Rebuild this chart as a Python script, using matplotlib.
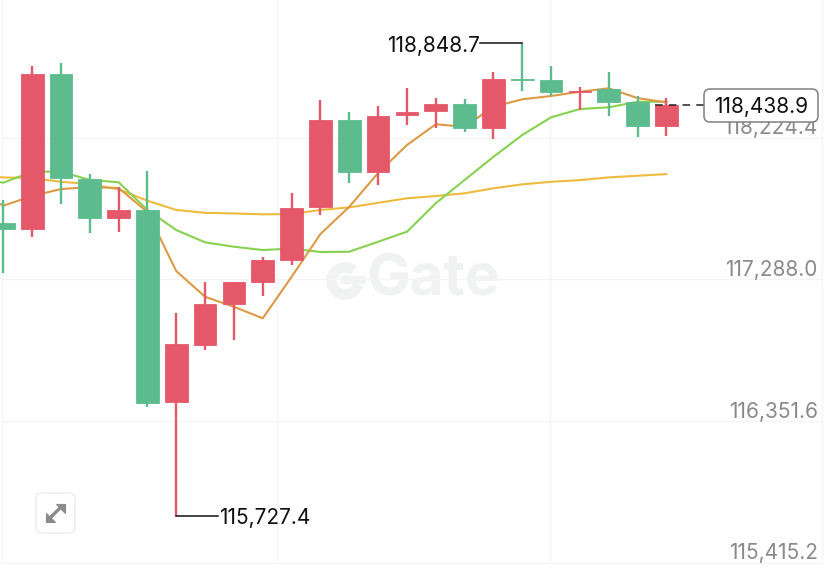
import numpy as np
import matplotlib.pyplot as plt
from matplotlib.patches import FancyBboxPatch, Arc, Polygon

plt.rcParams['font.family'] = ['Inter', 'DejaVu Sans']

# Candles
candle_idx = list(range(24))
opens = [117663, 117621, 118643, 117953, 117694, 117747, 116475, 116854, 117123, 117273, 117416, 117764,
         118343, 118000, 118372, 118401, 118447, 118290, 118614, 118605, 118526, 118544, 118458, 118304]
closes = [117620, 118643, 117960, 117694, 117747, 116471, 116861, 117123, 117269, 117416, 117758, 118343,
          118000, 118370, 118394, 118447, 118290, 118612, 118606, 118526, 118533, 118460, 118304, 118438.9]
highs = [117813, 118698, 118720, 117984, 117898, 118004, 117066, 117271, 117271, 117438, 117857, 118473,
         118396, 118432, 118551, 118485, 118478, 118660, 118848.7, 118698, 118561, 118656, 118502, 118485]
lows = [117330, 117568, 117786, 117595, 117603, 116445, 115727.4, 116821, 116887, 117180, 117383, 117711,
        117923, 117912, 118308, 118290, 118260, 118214, 118533, 118497, 118407, 118370, 118231, 118237]

# Moving averages, first value belongs to the candle before the left edge
ma_idx = list(range(-1, 24))
ma_fast = [117879, 117775, 117839, 117885, 117898, 117892, 117733, 117343, 117173, 117107, 117031, 117305, 117588,
           117768, 117991, 118176, 118313, 118297, 118429, 118478, 118500, 118528, 118551, 118486, 118458]
ma_mid = [117958, 117927, 118000, 118000, 117945, 117930, 117747, 117614, 117533, 117504, 117482, 117492, 117469,
          117471, 117537, 117603, 117791, 117945, 118098, 118242, 118359, 118414, 118425, 118462, 118462]
ma_slow = [117971, 117962, 117958, 117933, 117918, 117883, 117808, 117747, 117728, 117724, 117718, 117720, 117747,
           117764, 117794, 117824, 117839, 117857, 117890, 117916, 117933, 117944, 117962, 117973, 117984]

# Axis
price_ticks = [118224.4, 117288.0, 116351.6, 115415.2]
grid_x = [-0.06, 9.48, 18.95, 28.4]
last_price = 118438.9

RED = '#e5586a'
GREEN = '#5cbc8e'
GRID = '#f5f5f5'
FONT = 15

fig = plt.figure(figsize=(8.29, 5.75), dpi=100)
ax = fig.add_axes([0, 0, 1, 1])
ax.set_xlim(-0.114, 28.64)
ax.set_ylim(115334.7, 119134.3)
ax.axis('off')
ax.patch.set_alpha(0)

# Grid
ax.hlines(price_ticks, -0.06, 28.4, color=GRID, lw=1, zorder=1)
ax.vlines(grid_x, price_ticks[-1], 119134.3, color=GRID, lw=1, zorder=1)

# Gate watermark, drawn in pixel coordinates on an overlay
ov = fig.add_axes([0, 0, 1, 1], zorder=-1)
ov.set_xlim(0, 829)
ov.set_ylim(575, 0)
ov.axis('off')
ov.text(366, 281, 'Gate', fontsize=42, fontweight='bold', color='#f1f2f2', ha='left', va='center')
ov.add_patch(Arc((345, 281), 27, 27, theta1=15, theta2=310, lw=7.5, color='#f1f2f2'))
ov.plot([345, 361], [280, 280], color='#f1f2f2', lw=6)

# Moving averages under the candles
ax.plot(ma_idx, ma_slow, color='#edbb3e', lw=1.5, zorder=2)
ax.plot(ma_idx, ma_mid, color='#86d250', lw=1.5, zorder=2)
ax.plot(ma_idx, ma_fast, color='#dd9a45', lw=1.5, zorder=2)

# Candles
for i, o, c, h, l in zip(candle_idx, opens, closes, highs, lows):
    col = RED if c > o else GREEN
    ax.vlines(i, l, h, color=col, lw=1.7, zorder=3)
    ax.bar(i, abs(c - o), bottom=min(o, c), width=0.79, color=col, edgecolor=col, lw=0.6, zorder=4)

# High and low markers
hi = int(np.argmax(highs))
lo = int(np.argmin(lows))
ax.plot([hi - 1.46, hi], [highs[hi], highs[hi]], color='#111111', lw=1.1, zorder=5)
ax.plot([lo, lo + 1.46], [lows[lo], lows[lo]], color='#111111', lw=1.1, zorder=5)
ax.text(hi - 1.46, highs[hi] - 18, f'{highs[hi]:,.1f}', fontsize=FONT, color='#111111', ha='right', va='center', zorder=6)
ax.text(lo + 1.47, lows[lo] - 18, f'{lows[lo]:,.1f}', fontsize=FONT, color='#111111', ha='left', va='center', zorder=6)

# Price axis labels
for p in price_ticks:
    ax.text(28.25, p + 62, f'{p:,.1f}', fontsize=FONT, color='#8a8a8a', ha='right', va='center', zorder=2)

# Last price line and tag
ax.plot([22.62, 24.3], [last_price, last_price], color='#222222', lw=1.1, dashes=(5, 4), zorder=5)
top = fig.add_axes([0, 0, 1, 1], zorder=5)
top.set_xlim(0, 829)
top.set_ylim(575, 0)
top.axis('off')
top.add_patch(FancyBboxPatch((709, 94), 104, 23, boxstyle='round,pad=5,rounding_size=6', fc='white', ec='#808080', lw=1.1))
top.text(761, 107, f'{last_price:,.1f}', fontsize=FONT, color='#111111', ha='center', va='center')

# Fullscreen button
top.add_patch(FancyBboxPatch((40, 497), 31, 32, boxstyle='round,pad=4,rounding_size=6', fc='white', ec='#f1f1f1', lw=1.4))
top.add_patch(Polygon([(56, 504), (65, 504), (65, 513)], fc='#8c8c8c', ec='#8c8c8c', lw=0.8))
top.add_patch(Polygon([(46, 513), (46, 522), (55, 522)], fc='#8c8c8c', ec='#8c8c8c', lw=0.8))
top.plot([53, 60], [515, 508], color='#8c8c8c', lw=2.4)
top.plot([48, 52], [520, 516], color='#8c8c8c', lw=2.4)

fig.savefig('out.png', dpi=100, facecolor='white')
